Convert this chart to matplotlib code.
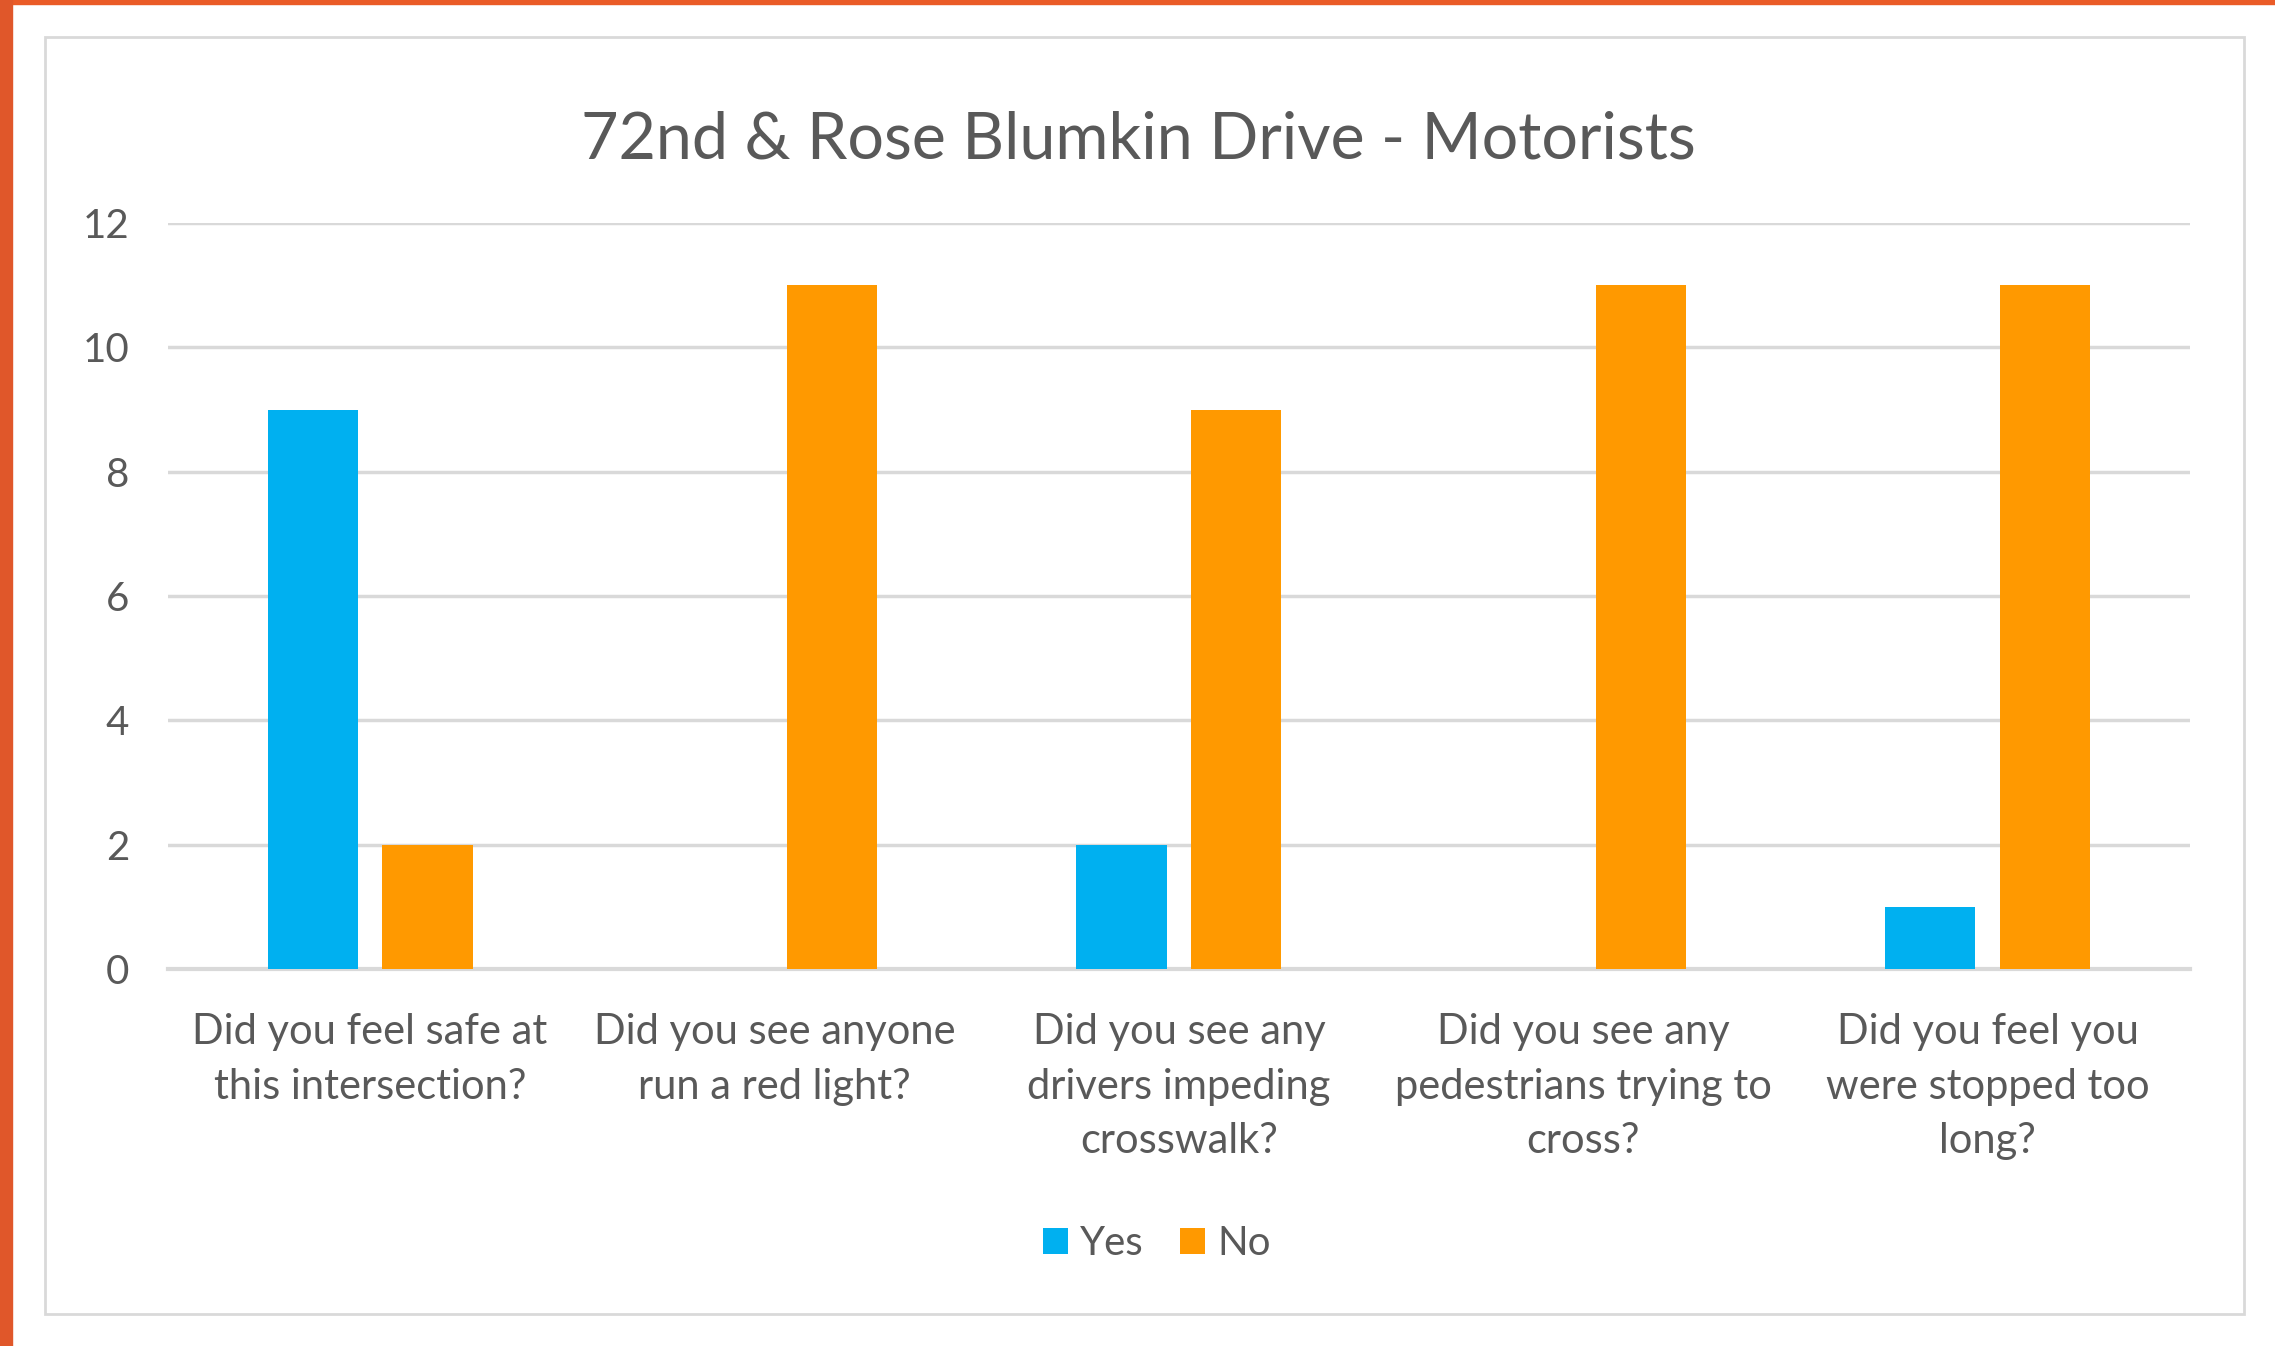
import matplotlib.pyplot as plt
import numpy as np
from matplotlib.patches import Rectangle

questions = [
    "Did you feel safe at\nthis intersection?",
    "Did you see anyone\nrun a red light?",
    "Did you see any\ndrivers impeding\ncrosswalk?",
    "Did you see any\npedestrians trying to\ncross?",
    "Did you feel you\nwere stopped too\nlong?",
]
yes_counts = [9, 0, 2, 0, 1]
no_counts = [2, 11, 9, 11, 11]
y_ticks = [0, 2, 4, 6, 8, 10, 12]

grey_text = '#595959'
grid_col = '#D9D9D9'
blue = '#00B0F0'
orange = '#FF9900'

plt.rcParams['font.family'] = ['Lato', 'DejaVu Sans']

fig = plt.figure(figsize=(22.75, 13.46), dpi=100)

# slide accents and chart frame
fig.patches.append(Rectangle((0, 0.997), 1, 0.003, transform=fig.transFigure,
                             color='#EA5B27', zorder=0))
fig.patches.append(Rectangle((0, 0), 0.0053, 1, transform=fig.transFigure,
                             color='#E0572A', zorder=0))
fig.patches.append(Rectangle((0.0198, 0.0238), 0.9666, 0.9487, transform=fig.transFigure,
                             fill=False, edgecolor=grid_col, linewidth=2, zorder=0))

ax = fig.add_axes([0.0738, 0.2801, 0.8888, 0.5542])

x = np.arange(len(questions))
w = 0.223
off = 0.142
ax.bar(x - off, yes_counts, w, color=blue, label='Yes', zorder=3)
ax.bar(x + off, no_counts, w, color=orange, label='No', zorder=3)

ax.set_xlim(-0.5, len(questions) - 0.5)
ax.set_ylim(0, 12)
ax.set_yticks(y_ticks)
ax.yaxis.grid(True, color=grid_col, linewidth=2.5, zorder=0)
ax.set_axisbelow(True)
for s in ['top', 'right', 'left']:
    ax.spines[s].set_visible(False)
ax.spines['bottom'].set_color(grid_col)
ax.spines['bottom'].set_linewidth(3)

ax.set_xticks(x)
ax.set_xticklabels(questions, fontsize=30, color=grey_text, linespacing=1.52)
ax.tick_params(axis='x', length=0, pad=32)
ax.tick_params(axis='y', length=0, pad=28, labelsize=29, labelcolor=grey_text)

fig.text(0.5006, 0.896, '72nd & Rose Blumkin Drive - Motorists', ha='center', va='center',
         fontsize=46.5, color=grey_text)

leg = ax.legend(loc='center', bbox_to_anchor=(0.489, -0.368), ncol=2, frameon=False,
                fontsize=29, handlelength=0.62, handleheight=0.62, handletextpad=0.3,
                columnspacing=0.9)
for t in leg.get_texts():
    t.set_color(grey_text)

fig.savefig('out.png', dpi=100, facecolor='white')
